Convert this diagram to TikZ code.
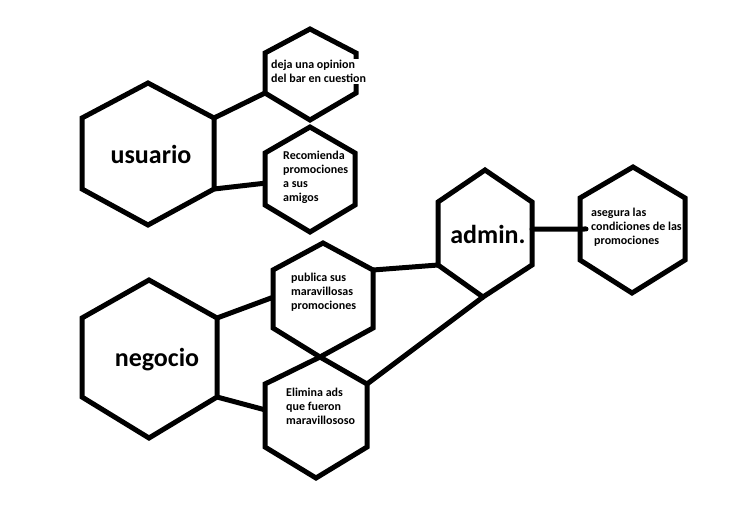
\documentclass[tikz,border=0pt]{standalone}
\usepackage{fontspec}
\setmainfont{Carlito}
\usetikzlibrary{calc}
\newcommand\hexshape[9]{%
  \coordinate (#1-t) at (#4,#5);
  \coordinate (#1-ul) at (#2,#6);
  \coordinate (#1-ll) at (#2,#7);
  \coordinate (#1-b) at (#8,#9);
  \coordinate (#1-lr) at (#3,#7);
  \coordinate (#1-ur) at (#3,#6);
  \draw[hexline] (#1-t) -- (#1-ul) -- (#1-ll) -- (#1-b) -- (#1-lr) -- (#1-ur) -- cycle;
}
\tikzset{
  hexline/.style={line width=5pt, black},
  link/.style={line width=5pt, black},
  bigtxt/.style={font=\fontsize{26}{30}\selectfont\bfseries, inner sep=0pt, anchor=base},
  smalltxt/.style={font=\fontsize{12}{14}\selectfont\bfseries, inner sep=0pt, anchor=north west, align=left},
}
\begin{document}
\begin{tikzpicture}[x=1pt,y=-1pt]
\useasboundingbox[fill=white] (0,0) rectangle (735,515);
% hexagons: name, left x, right x, top x, top y, upper side y, lower side y, bottom x, bottom y
\hexshape{usu}{82}{214}{148}{83}{118}{189}{148}{225}
\hexshape{deja}{265}{356}{310}{29}{53}{93}{310}{120}
\hexshape{rec}{265}{355}{310}{127}{153}{205}{310}{232}
\hexshape{neg}{82}{217}{149}{280}{318}{397}{149}{438}
\hexshape{pub}{273}{373}{323}{243}{270}{328}{320}{357}
\hexshape{eli}{265}{367}{320}{357}{384}{447}{316}{478}
\hexshape{adm}{438}{532}{485}{170}{202}{265}{483}{297}
\hexshape{ase}{580}{685}{633}{167}{198}{260}{632}{293}
% connectors
\draw[link] (usu-ur) -- (deja-ll);
\draw[link] (usu-lr) -- ($(rec-ul)!0.58!(rec-ll)$);
\draw[link] (neg-ur) -- ($(pub-ul)!0.47!(pub-ll)$);
\draw[link] (neg-lr) -- ($(eli-ul)!0.41!(eli-ll)$);
\draw[link] (pub-ur) -- (adm-ll);
\draw[link] (eli-ur) -- (adm-b);
\draw[link, line cap=round, shorten >=-6pt] ($(adm-ur)!0.43!(adm-lr)$) -- ($(ase-ul)!0.5!(ase-ll)$);
% texts
\node[bigtxt] (usuT) at (151,163) {usuario};
\node[bigtxt] (negT) at (157,366) {negocio};
\node[bigtxt] (admT) at (488,243) {admin.};
\node[smalltxt, fill=white, inner sep=1.5pt] (dejaT) at (269.5,58.5) {deja una opinion\\del bar en cuestion};
\node[smalltxt] (recT) at (283,151) {Recomienda\\promociones\\a sus\\amigos};
\node[smalltxt] (pubT) at (291,273) {publica sus\\maravillosas\\promociones};
\node[smalltxt] (eliT) at (286,388) {Elimina ads\\que fueron\\maravillososo};
\node[smalltxt] (aseT) at (591,208) {asegura las\\condiciones de las\\\hspace{3pt}promociones};
\end{tikzpicture}
\end{document}
